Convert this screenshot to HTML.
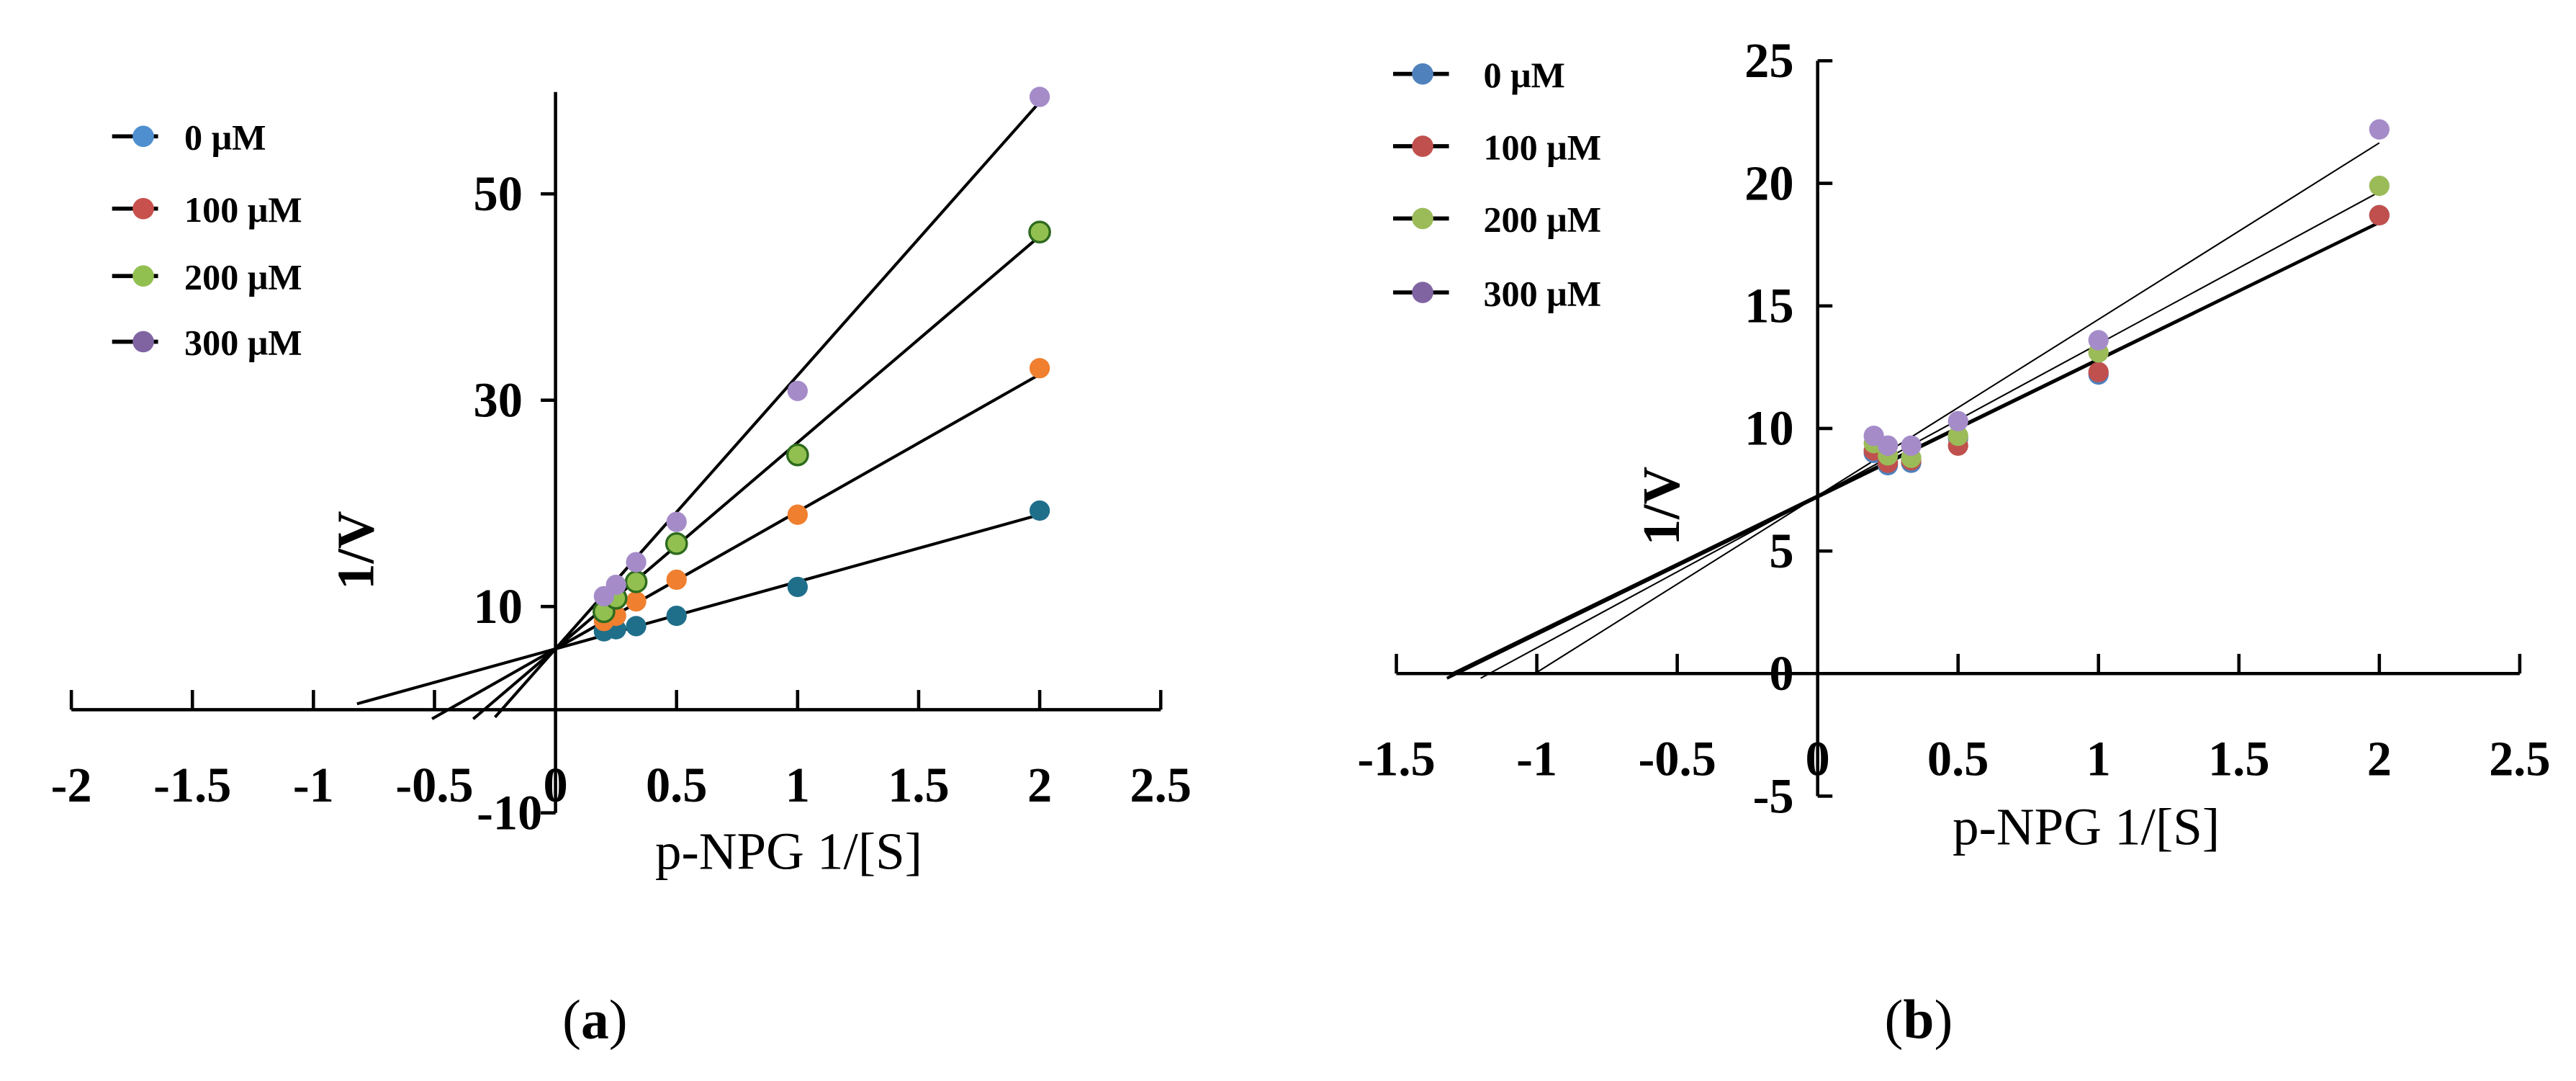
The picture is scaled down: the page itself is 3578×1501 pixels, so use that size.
<!DOCTYPE html>
<html><head><meta charset="utf-8"><style>
html,body{margin:0;padding:0;background:#fff;}
svg{display:block;}
text{font-family:"Liberation Serif",serif;}
</style></head><body>
<svg id="fig" xmlns="http://www.w3.org/2000/svg" width="3578" height="1501" viewBox="0 0 1568 658">
<rect width="1568" height="658" fill="#fff"/>
<g id="pa"></g>
<g id="pb"></g>
<text x="362" y="632" font-size="34" text-anchor="middle">(<tspan font-weight="bold">a</tspan>)</text>
<text x="1168" y="632" font-size="34" text-anchor="middle">(<tspan font-weight="bold">b</tspan>)</text>
</svg>
<script>
const xs = [0.2, 0.25, 0.333, 0.5, 1, 2];
const seriesNames = ["0 μM", "100 μM", "200 μM", "300 μM"];
// Panel a
const aXTicks = [-2, -1.5, -1, -0.5, 0, 0.5, 1, 1.5, 2, 2.5];
const aXTickLabels = ["-2", "-1.5", "-1", "-0.5", "0", "0.5", "1", "1.5", "2", "2.5"];
const aYTicks = [50, 30, 10, -10];
const aYTickLabels = ["50", "30", "10", "-10"];
const a0 = [7.6, 7.8, 8.1, 9.1, 11.9, 19.3];
const a100 = [8.6, 9.1, 10.5, 12.6, 18.9, 33.1];
const a200 = [9.5, 10.8, 12.4, 16.1, 24.7, 46.3];
const a300 = [11.0, 12.1, 14.3, 18.2, 30.9, 59.4];
const aIntercept = [5.9, 5.9, 5.9, 5.9];
const aSlope = [6.5, 13.3, 20.0, 26.5];
const aLineStart = [-0.82, -0.51, -0.34, -0.25];
// Panel b
const bXTicks = [-1.5, -1, -0.5, 0, 0.5, 1, 1.5, 2, 2.5];
const bXTickLabels = ["-1.5", "-1", "-0.5", "0", "0.5", "1", "1.5", "2", "2.5"];
const bYTicks = [25, 20, 15, 10, 5, 0, -5];
const bYTickLabels = ["25", "20", "15", "10", "5", "0", "-5"];
const b0 = [9.0, 8.5, 8.6, 9.6, 12.2, 18.7];
const b100 = [9.1, 8.6, 8.7, 9.3, 12.3, 18.7];
const b200 = [9.4, 8.9, 8.8, 9.7, 13.1, 19.9];
const b300 = [9.7, 9.3, 9.3, 10.3, 13.6, 22.2];
const bIntercept = [7.2, 7.25, 7.25, 7.25];
const bSlope = [5.6, 5.58, 6.2, 7.2];
const bLineStart = [-1.32, -1.31, -1.2, -1.0];

const NS = "http://www.w3.org/2000/svg";
function mk(parent, tag, attrs, txt){const e=document.createElementNS(NS,tag);for(const k in attrs)e.setAttribute(k,attrs[k]);if(txt!==undefined)e.textContent=txt;parent.appendChild(e);return e;}

// ---------- Panel A ----------
const pa = document.getElementById('pa');
const xa = v => 338 + v * 147.4;
const ya = v => 432 - v * 6.28;
let el;
el = mk(pa,'line',{x1:xa(-2),y1:ya(0),x2:xa(2.5),y2:ya(0),stroke:'#000','stroke-width':2});


el = mk(pa,'line',{x1:xa(0),y1:56,x2:xa(0),y2:ya(-10),stroke:'#000','stroke-width':2});


aXTicks.forEach((t,i)=>{
  if(t!==0){
    el = mk(pa,'line',{x1:xa(t),y1:ya(0),x2:xa(t),y2:ya(0)-12,stroke:'#000','stroke-width':2});
    
    
  }
  el = mk(pa,'text',{x:xa(t),y:488,'font-size':30,'font-weight':'bold','text-anchor':'middle'},aXTickLabels[i]);
  
  
});
aYTicks.forEach((t,i)=>{
  el = mk(pa,'line',{x1:xa(0),y1:ya(t),x2:xa(0)-9,y2:ya(t),stroke:'#000','stroke-width':2});
  
  
  const lx = t===-10 ? 330 : 318;
  el = mk(pa,'text',{x:lx,y:ya(t)+10,'font-size':30,'font-weight':'bold','text-anchor':'end'},aYTickLabels[i]);
  
  
});
el = mk(pa,'text',{x:0,y:0,'font-size':32,'font-weight':'bold','text-anchor':'middle',transform:'translate(227,335) rotate(-90)'},'1/V');


el = mk(pa,'text',{x:480,y:529,'font-size':32,'text-anchor':'middle'},'p-NPG  1/[S]');


const aData=[a0,a100,a200,a300];
const aFill=['#1f6f8b','#f07f2f','#92c050','#a58cc9'];
const aStroke=['#1f6f8b','#f07f2f','#2e6b1e','#a58cc9'];
const aLegFill=['#4f8fcf','#c8504d','#92c050','#8064a2'];
for(let s=0;s<4;s++){
  const x0=aLineStart[s], x1=2;
  el = mk(pa,'line',{x1:xa(x0),y1:ya(aIntercept[s]+aSlope[s]*x0),x2:xa(x1),y2:ya(aIntercept[s]+aSlope[s]*x1),stroke:'#000','stroke-width':1.8});
  
  
}
for(let s=0;s<4;s++){
  aData[s].forEach((v,i)=>{
    el = mk(pa,'circle',{cx:xa(xs[i]),cy:ya(v),r:6.2,fill:aFill[s],stroke:aStroke[s],'stroke-width':s===2?1.5:0});
    
    
  });
}
const aLegY=[83,127,168,208];
for(let s=0;s<4;s++){
  el = mk(pa,'line',{x1:68,y1:aLegY[s],x2:96,y2:aLegY[s],stroke:'#000','stroke-width':2.5});
  
  
  el = mk(pa,'circle',{cx:87,cy:aLegY[s],r:6.5,fill:aLegFill[s]});
  
  
  el = mk(pa,'text',{x:112,y:aLegY[s]+8,'font-size':22,'font-weight':'bold'},seriesNames[s]);
  
  
}

// ---------- Panel B ----------
const pb = document.getElementById('pb');
const xb = v => 1106.5 + v * 171;
const yb = v => 410 - v * 14.92;
el = mk(pb,'line',{x1:xb(-1.5),y1:yb(0),x2:xb(2.5),y2:yb(0),stroke:'#000','stroke-width':2});


el = mk(pb,'line',{x1:xb(0),y1:yb(25),x2:xb(0),y2:yb(-5),stroke:'#000','stroke-width':2});


bXTicks.forEach((t,i)=>{
  if(t!==0){
    el = mk(pb,'line',{x1:xb(t),y1:yb(0),x2:xb(t),y2:yb(0)-12,stroke:'#000','stroke-width':2});
    
    
  }
  el = mk(pb,'text',{x:xb(t),y:472,'font-size':30,'font-weight':'bold','text-anchor':'middle'},bXTickLabels[i]);
  
  
});
bYTicks.forEach((t,i)=>{
  el = mk(pb,'line',{x1:xb(0),y1:yb(t),x2:xb(0)+9,y2:yb(t),stroke:'#000','stroke-width':2});
  
  
  el = mk(pb,'text',{x:1092,y:yb(t)+10,'font-size':30,'font-weight':'bold','text-anchor':'end'},bYTickLabels[i]);
  
  
});
el = mk(pb,'text',{x:0,y:0,'font-size':32,'font-weight':'bold','text-anchor':'middle',transform:'translate(1022,308) rotate(-90)'},'1/V');


el = mk(pb,'text',{x:1270,y:514,'font-size':32,'text-anchor':'middle'},'p-NPG  1/[S]');


const bData=[b0,b100,b200,b300];
const bFill=['#4f81bd','#c0504d','#9bbb59','#a58cc9'];
const bW=[1.8,1.8,0.9,0.9];
for(let s=0;s<4;s++){
  const x0=bLineStart[s], x1=2;
  el = mk(pb,'line',{x1:xb(x0),y1:yb(bIntercept[s]+bSlope[s]*x0),x2:xb(x1),y2:yb(bIntercept[s]+bSlope[s]*x1),stroke:'#000','stroke-width':bW[s]});
  
  
}
for(let s=0;s<4;s++){
  bData[s].forEach((v,i)=>{
    el = mk(pb,'circle',{cx:xb(xs[i]),cy:yb(v),r:6.2,fill:bFill[s]});
    
    
  });
}
const bLegY=[45,89,133,178];
const bLegFill=['#4f81bd','#c0504d','#9bbb59','#8064a2'];
for(let s=0;s<4;s++){
  el = mk(pb,'line',{x1:848,y1:bLegY[s],x2:882,y2:bLegY[s],stroke:'#000','stroke-width':2.5});
  
  
  el = mk(pb,'circle',{cx:866,cy:bLegY[s],r:6.5,fill:bLegFill[s]});
  
  
  el = mk(pb,'text',{x:903,y:bLegY[s]+8,'font-size':22,'font-weight':'bold'},seriesNames[s]);
  
  
}
</script>
</body></html>
